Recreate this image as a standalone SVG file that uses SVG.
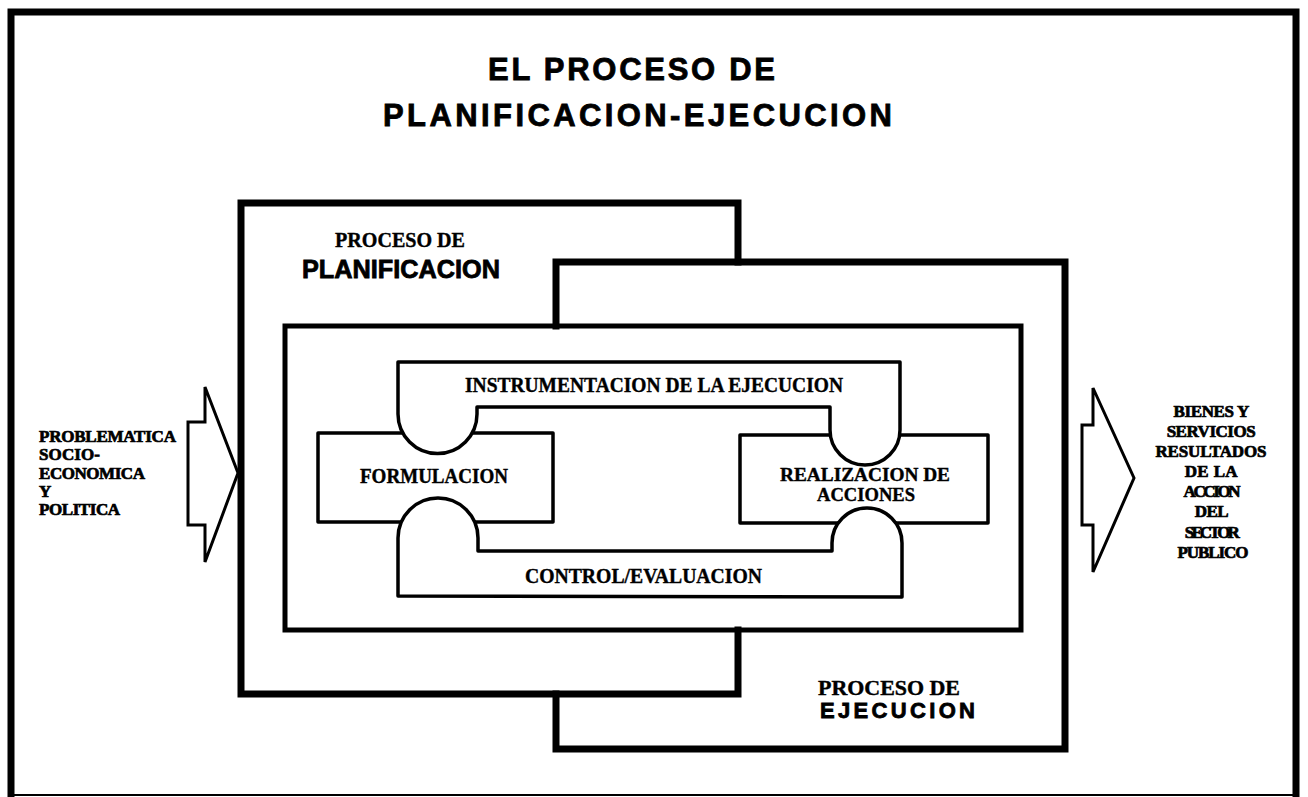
<svg xmlns="http://www.w3.org/2000/svg" width="1308" height="797" viewBox="0 0 1308 797">
<style>
.thick{fill:none;stroke:#000;stroke-width:7;stroke-linecap:square;stroke-linejoin:miter}
.inner{fill:none;stroke:#000;stroke-width:5}
.piece{fill:#fff;stroke:#000;stroke-width:3.5;stroke-linejoin:round}
.arrow{fill:#fff;stroke:#000;stroke-width:3;stroke-linejoin:miter}
.serif{font-family:"Liberation Serif","Times New Roman",serif;font-weight:bold;fill:#000;stroke:#000;stroke-width:0.4}
.sans{font-family:"Liberation Sans",Arial,sans-serif;font-weight:bold;fill:#000;stroke:#000;stroke-width:0.8}
</style>
<rect width="1308" height="797" fill="#fff"/>
<g id="frame">
<path class="thick" d="M11,797 V12 H1296 V797" stroke-width="8"/>
<line x1="11" y1="795" x2="1296" y2="795" stroke="#000" stroke-width="2"/>
</g>
<g id="title">
<text class="sans" x="488" y="80" font-size="31" textLength="287" lengthAdjust="spacing">EL PROCESO DE</text>
<text class="sans" x="383" y="126" font-size="31" textLength="509" lengthAdjust="spacing">PLANIFICACION-EJECUCION</text>
</g>
<g id="proceso-planificacion">
<path class="thick" d="M738,262 V203 H241 V694 H738 V630"/>
<text class="serif" x="335" y="247" font-size="21" textLength="130" lengthAdjust="spacingAndGlyphs">PROCESO DE</text>
<text class="sans" x="302" y="278" font-size="25" textLength="198" lengthAdjust="spacingAndGlyphs">PLANIFICACION</text>
</g>
<g id="proceso-ejecucion">
<path class="thick" d="M556,326 V262 H1065 V749 H556 V694"/>
<text class="serif" x="818" y="695" font-size="21" textLength="142" lengthAdjust="spacingAndGlyphs">PROCESO DE</text>
<text class="sans" x="820" y="718" font-size="22" textLength="155" lengthAdjust="spacing">EJECUCION</text>
</g>
<g id="nucleo">
<rect class="inner" x="285" y="326" width="736" height="304"/>
</g>
<g id="formulacion">
<rect class="piece" x="318" y="433" width="235" height="89"/>
<text class="serif" x="360" y="483" font-size="21" textLength="148" lengthAdjust="spacingAndGlyphs">FORMULACION</text>
</g>
<g id="realizacion">
<rect class="piece" x="740" y="435" width="248" height="88"/>
<text class="serif" x="780" y="481" font-size="19" textLength="170" lengthAdjust="spacingAndGlyphs">REALIZACION DE</text>
<text class="serif" x="817" y="501" font-size="19" textLength="98" lengthAdjust="spacingAndGlyphs">ACCIONES</text>
</g>
<g id="instrumentacion">
<path class="piece" d="M398,362 H900 V430 A35,35 0 0 1 830,430 V407 H477 V414 A39.5,39.5 0 0 1 398,414 Z"/>
<text class="serif" x="465" y="392" font-size="21" textLength="378" lengthAdjust="spacingAndGlyphs">INSTRUMENTACION DE LA EJECUCION</text>
</g>
<g id="control">
<path class="piece" d="M398,596 V538 A40,40 0 0 1 478,538 V551 H832 V543 A35,35 0 0 1 902,543 V597 Z"/>
<text class="serif" x="525" y="583" font-size="21" textLength="237" lengthAdjust="spacingAndGlyphs">CONTROL/EVALUACION</text>
</g>
<g id="entrada">
<text class="serif" font-size="17" lengthAdjust="spacingAndGlyphs" style="stroke-width:0.7">
<tspan x="39" y="442" textLength="136">PROBLEMATICA</tspan>
<tspan x="39" y="460" textLength="61">SOCIO-</tspan>
<tspan x="39" y="479" textLength="105">ECONOMICA</tspan>
<tspan x="39" y="497" textLength="11">Y</tspan>
<tspan x="39" y="515" textLength="81">POLITICA</tspan>
</text>
</g>
<g id="salida">
<text class="serif" font-size="17" text-anchor="middle" lengthAdjust="spacingAndGlyphs" style="stroke-width:0.7">
<tspan x="1213" y="417" textLength="75">BIENES Y</tspan>
<tspan x="1213" y="437" textLength="89">SERVICIOS</tspan>
<tspan x="1213" y="457" textLength="111">RESULTADOS</tspan>
<tspan x="1213" y="477" textLength="52">DE LA</tspan>
<tspan x="1213" y="497" textLength="57">ACCION</tspan>
<tspan x="1213" y="517" textLength="33">DEL</tspan>
<tspan x="1213" y="538" textLength="55">SECTOR</tspan>
<tspan x="1213" y="558" textLength="71">PUBLICO</tspan>
</text>
</g>
<g id="connectors">
<path class="arrow" d="M188,422 H205 V387 L238,473 L205,562 V525 H188 Z"/>
<path class="arrow" d="M1082,425 H1093 V388 L1134,478 L1093,572 V525 H1082 Z"/>
</g>
</svg>
